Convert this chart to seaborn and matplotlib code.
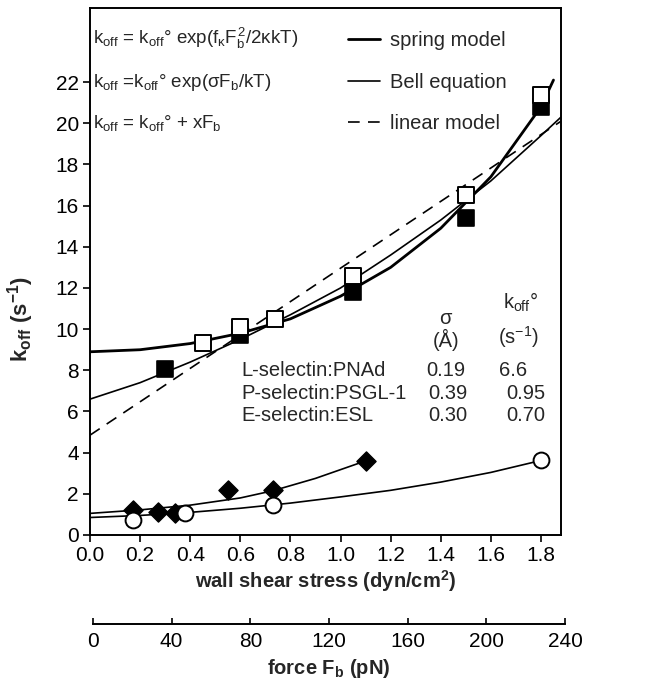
import matplotlib
matplotlib.use("Agg")
import matplotlib.pyplot as plt
import seaborn as sns
import pandas as pd
from matplotlib.lines import Line2D

# ---------------- data ----------------
lsel_open_x = [0.45, 0.60, 0.74, 1.05, 1.50, 1.80]
lsel_open_y = [9.35, 10.1, 10.5, 12.6, 16.5, 21.35]
lsel_fill_x = [0.30, 0.60, 1.05, 1.50, 1.80]
lsel_fill_y = [8.05, 9.7, 11.8, 15.4, 20.8]
psel_x = [0.17, 0.27, 0.34, 0.55, 0.73, 1.10]
psel_y = [1.2, 1.1, 1.05, 2.2, 2.2, 3.6]
esel_x = [0.17, 0.38, 0.73, 1.80]
esel_y = [0.75, 1.05, 1.45, 3.62]

spring_x = [0.0, 0.2, 0.4, 0.6, 0.8, 1.0, 1.2, 1.4, 1.6, 1.8, 1.85]
spring_y = [8.9, 9.0, 9.3, 9.8, 10.5, 11.6, 13.0, 14.9, 17.4, 20.8, 22.1]
bell_x = [0.0, 0.2, 0.4, 0.6, 0.8, 1.0, 1.2, 1.4, 1.6, 1.8, 1.88]
bell_y = [6.6, 7.4, 8.4, 9.5, 10.7, 12.0, 13.6, 15.3, 17.2, 19.4, 20.3]
linear_x = [0.0, 1.88]
linear_y = [4.85, 20.1]
psel_fit_x = [0.0, 0.2, 0.4, 0.6, 0.73, 0.9, 1.1]
psel_fit_y = [1.05, 1.22, 1.45, 1.8, 2.15, 2.75, 3.6]
esel_fit_x = [0.0, 0.2, 0.4, 0.6, 0.8, 1.0, 1.2, 1.4, 1.6, 1.8]
esel_fit_y = [0.85, 0.95, 1.1, 1.3, 1.55, 1.85, 2.17, 2.57, 3.04, 3.62]

x_ticks = [0.0, 0.2, 0.4, 0.6, 0.8, 1.0, 1.2, 1.4, 1.6, 1.8]
y_ticks = [0, 2, 4, 6, 8, 10, 12, 14, 16, 18, 20, 22]
force_ticks = [0, 40, 80, 120, 160, 200, 240]

equations = [r"$k_{off}$ = $k_{off}$° exp($f_{κ}F_{b}^{2}$/2κkT)",
             r"$k_{off}$ =$k_{off}$° exp(σ$F_{b}$/kT)",
             r"$k_{off}$ = $k_{off}$° + x$F_{b}$"]
model_names = ["spring model", "Bell equation", "linear model"]
pairs = ["L-selectin:PNAd", "P-selectin:PSGL-1", "E-selectin:ESL"]
sigmas = ["0.19", "0.39", "0.30"]
k0s = ["6.6", "0.95", "0.70"]

# ---------------- style ----------------
sns.set_theme(style="ticks")
plt.rcParams["font.family"] = ["Liberation Sans", "DejaVu Sans"]
plt.rcParams["mathtext.fontset"] = "custom"
plt.rcParams["mathtext.rm"] = "Liberation Sans"
plt.rcParams["mathtext.it"] = "Liberation Sans"
plt.rcParams["mathtext.bf"] = "Liberation Sans:bold"
plt.rcParams["axes.linewidth"] = 1.4
plt.rcParams["xtick.major.width"] = 1.2
plt.rcParams["ytick.major.width"] = 1.2
plt.rcParams["xtick.major.size"] = 5
plt.rcParams["ytick.major.size"] = 5
plt.rcParams["xtick.color"] = "black"
plt.rcParams["ytick.color"] = "black"
plt.rcParams["axes.edgecolor"] = "black"

FS = 14.5
TFS = 15
EFS = 13.5
fig = plt.figure(figsize=(6.49, 6.83), dpi=100)
ax = fig.add_axes([90 / 649, 1 - 535 / 683, (561 - 90) / 649, (535 - 8) / 683])

thick, thin = 2.0, 1.2
dash = (0, (7, 5))
sns.lineplot(x=spring_x, y=spring_y, ax=ax, color="black", lw=thick, estimator=None, sort=False)
sns.lineplot(x=bell_x, y=bell_y, ax=ax, color="black", lw=thin, estimator=None, sort=False)
sns.lineplot(x=linear_x, y=linear_y, ax=ax, color="black", lw=thin, estimator=None, sort=False,
             dashes=False, linestyle=dash)
sns.lineplot(x=psel_fit_x, y=psel_fit_y, ax=ax, color="black", lw=thin, estimator=None, sort=False)
sns.lineplot(x=esel_fit_x, y=esel_fit_y, ax=ax, color="black", lw=thin, estimator=None, sort=False)

ms = 120
sns.scatterplot(x=lsel_fill_x, y=lsel_fill_y, ax=ax, marker="s", s=ms, color="black",
                edgecolor="black", linewidth=1.2, zorder=5)
sns.scatterplot(x=lsel_open_x, y=lsel_open_y, ax=ax, marker="s", s=ms, color="white",
                edgecolor="black", linewidth=1.4, zorder=6)
sns.scatterplot(x=psel_x, y=psel_y, ax=ax, marker="D", s=95, color="black",
                edgecolor="black", linewidth=1.0, zorder=5)
sns.scatterplot(x=esel_x, y=esel_y, ax=ax, marker="o", s=130, color="white",
                edgecolor="black", linewidth=1.4, zorder=6)

ax.set_xlim(0, 1.88)
ax.set_ylim(0, 25.6)
ax.set_xticks(x_ticks)
ax.set_xticklabels([f"{v:.1f}" for v in x_ticks], fontsize=TFS)
ax.set_yticks(y_ticks)
ax.set_yticklabels([str(v) for v in y_ticks], fontsize=TFS)
ax.tick_params(direction="out", pad=3)
for s in ax.spines.values():
    s.set_visible(True)
    s.set_color("black")
ax.set_xlabel("wall shear stress (dyn/cm$\\mathbf{^{2}}$)", fontsize=FS, fontweight="bold", labelpad=2)
ax.set_ylabel(r"$\mathbf{k_{off}}$ (s$\mathbf{^{-1}}$)", fontsize=16, fontweight="bold")
ax.yaxis.set_label_coords(-0.115, 0.41)

# equations + legend
for eq, yv in zip(equations, [24.1, 22.0, 20.0]):
    ax.text(0.012, yv, eq, fontsize=EFS, va="center", ha="left")
handles = [Line2D([], [], color="black", lw=thick),
           Line2D([], [], color="black", lw=thin),
           Line2D([], [], color="black", lw=thin, linestyle=dash)]
leg = ax.legend(handles, model_names, loc="center left", bbox_to_anchor=(0.548, 22.0 / 25.6),
                frameon=False, fontsize=FS, handlelength=1.6, handletextpad=0.5,
                labelspacing=1.1, borderpad=0, borderaxespad=0)

# table
ax.text(1.42, 10.5, "σ", fontsize=FS, ha="center", va="center")
ax.text(1.42, 9.45, "(Å)", fontsize=FS, ha="center", va="center")
ax.text(1.72, 11.3, r"$k_{off}$°", fontsize=FS, ha="center", va="center")
ax.text(1.71, 9.6, r"(s$^{-1}$)", fontsize=FS, ha="center", va="center")
sig_x = [1.42, 1.43, 1.43]
k0_x = [1.69, 1.74, 1.74]
for name, sg, k0, yv, sx, kx in zip(pairs, sigmas, k0s, [8.0, 6.85, 5.8], sig_x, k0_x):
    ax.text(0.605, yv, name, fontsize=FS, ha="left", va="center")
    ax.text(sx, yv, sg, fontsize=FS, ha="center", va="center")
    ax.text(kx, yv, k0, fontsize=FS, ha="center", va="center")

# force axis
ax2 = fig.add_axes([93 / 649, 1 - 624 / 683, (565 - 93) / 649, 0.0001])
ax2.set_xlim(0, 240)
ax2.set_xticks(force_ticks)
ax2.set_xticklabels([str(v) for v in force_ticks], fontsize=TFS)
ax2.set_yticks([])
for side in ["top", "left", "right"]:
    ax2.spines[side].set_visible(False)
ax2.spines["bottom"].set_color("black")
ax2.tick_params(axis="x", direction="in", length=4, pad=6)
ax2.set_xlabel(r"force $\mathbf{F_{b}}$ (pN)", fontsize=FS, fontweight="bold", labelpad=4)
ax2.patch.set_alpha(0)

fig.savefig("out.png", dpi=100)
